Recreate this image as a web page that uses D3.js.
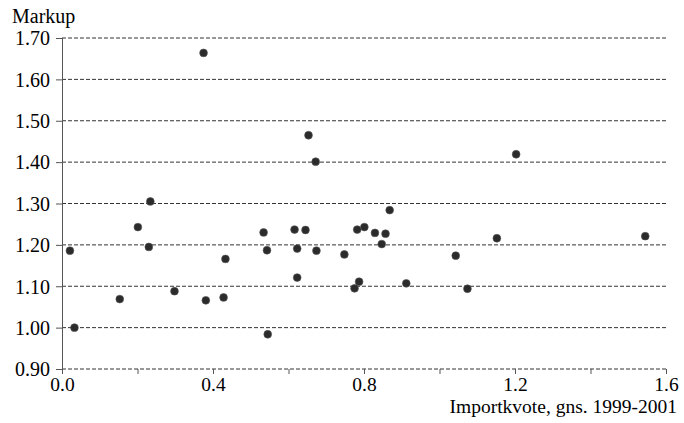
<!DOCTYPE html>
<html>
<head>
<meta charset="utf-8">
<script src="https://cdn.jsdelivr.net/npm/d3@7"></script>
<style>
  body { margin: 0; background: #fff; }
  svg text { font-family: "Liberation Serif", "Times New Roman", serif; fill: #000; }
</style>
</head>
<body>
<svg id="chart" width="684" height="423"></svg>
<script>
// Importkvote (x) and markup (y) per branche
const importShare = [0.021, 0.033, 0.153, 0.201, 0.230, 0.234, 0.298, 0.375, 0.381, 0.428,
                     0.433, 0.534, 0.543, 0.545, 0.616, 0.623, 0.623, 0.645, 0.653, 0.672,
                     0.674, 0.748, 0.775, 0.787, 0.782, 0.801, 0.829, 0.847, 0.857, 0.868,
                     0.912, 1.043, 1.074, 1.152, 1.203, 1.545];
const markup = [1.186, 1.000, 1.069, 1.243, 1.195, 1.305, 1.088, 1.664, 1.066, 1.073,
                1.166, 1.230, 1.187, 0.984, 1.237, 1.191, 1.121, 1.236, 1.465, 1.401,
                1.186, 1.177, 1.095, 1.111, 1.237, 1.243, 1.229, 1.202, 1.227, 1.284,
                1.107, 1.174, 1.094, 1.216, 1.419, 1.221];

const xTicks = [0, 0.2, 0.4, 0.6, 0.8, 1.0, 1.2, 1.4, 1.6];
const xLabelled = [0, 0.4, 0.8, 1.2, 1.6];
const yTicks = [0.9, 1.0, 1.1, 1.2, 1.3, 1.4, 1.5, 1.6, 1.7];

const data = importShare.map((x, i) => ({ x: x, y: markup[i] }));

const svg = d3.select('#chart');
const margin = { top: 38, right: 18, bottom: 54, left: 62 };
const width = 684 - margin.left - margin.right;
const height = 423 - margin.top - margin.bottom;

const g = svg.append('g')
    .attr('transform', `translate(${margin.left},${margin.top})`);

const xScale = d3.scaleLinear().domain([0, 1.6]).range([0, width]);
const yScale = d3.scaleLinear().domain([0.9, 1.7]).range([height, 0]);

// Dashed gridlines
g.append('g')
    .selectAll('line')
    .data(yTicks)
    .join('line')
    .attr('x1', 0)
    .attr('x2', width)
    .attr('y1', d => yScale(d))
    .attr('y2', d => yScale(d))
    .attr('stroke', '#333')
    .attr('stroke-width', 1)
    .attr('stroke-dasharray', '4,2');

// Y axis
const yAxis = d3.axisLeft(yScale)
    .tickValues(yTicks)
    .tickSize(6)
    .tickPadding(6)
    .tickFormat(d3.format('.2f'));

const yAxisGroup = g.append('g').call(yAxis);
yAxisGroup.select('.domain').attr('stroke', '#555').attr('d', `M0.5,${height}V0`);
yAxisGroup.selectAll('.tick line').attr('stroke', '#555');
yAxisGroup.selectAll('text')
    .style('font-size', '20px')
    .attr('dy', '0.34em');

// X axis
const xAxis = d3.axisBottom(xScale)
    .tickValues(xTicks)
    .tickSize(5)
    .tickPadding(3)
    .tickFormat(d => xLabelled.some(v => Math.abs(v - d) < 1e-9) ? d3.format('.1f')(d) : '');

const xAxisGroup = g.append('g')
    .attr('transform', `translate(0,${height})`)
    .call(xAxis);
xAxisGroup.select('.domain').remove();
xAxisGroup.selectAll('.tick line').attr('stroke', '#555');
xAxisGroup.selectAll('text')
    .style('font-size', '19.5px');

// Axis titles
svg.append('text')
    .attr('x', 12)
    .attr('y', 23)
    .style('font-size', '20px')
    .text('Markup');

svg.append('text')
    .attr('x', 677)
    .attr('y', 413)
    .attr('text-anchor', 'end')
    .style('font-size', '19.5px')
    .text('Importkvote, gns. 1999-2001');

// Points
g.append('g')
    .selectAll('circle')
    .data(data)
    .join('circle')
    .attr('cx', d => xScale(d.x))
    .attr('cy', d => yScale(d.y))
    .attr('r', 3.9)
    .attr('fill', '#2b2b2b')
    .attr('stroke', '#555')
    .attr('stroke-width', 0.6);
</script>
</body>
</html>
